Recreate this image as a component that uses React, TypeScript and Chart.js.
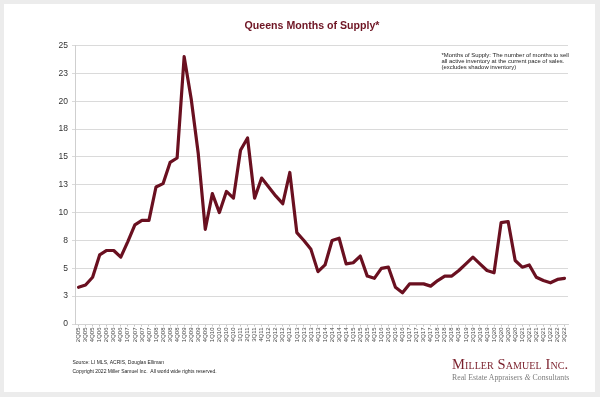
import React, { useEffect, useRef } from 'react';
import Chart from 'chart.js/auto';

const quarterLabels = [
  '2Q05', '3Q05', '4Q05',
  '1Q06', '2Q06', '3Q06', '4Q06',
  '1Q07', '2Q07', '3Q07', '4Q07',
  '1Q08', '2Q08', '3Q08', '4Q08',
  '1Q09', '2Q09', '3Q09', '4Q09',
  '1Q10', '2Q10', '3Q10', '4Q10',
  '1Q11', '2Q11', '3Q11', '4Q11',
  '1Q12', '2Q12', '3Q12', '4Q12',
  '1Q13', '2Q13', '3Q13', '4Q13',
  '1Q14', '2Q14', '3Q14', '4Q14',
  '1Q15', '2Q15', '3Q15', '4Q15',
  '1Q16', '2Q16', '3Q16', '4Q16',
  '1Q17', '2Q17', '3Q17', '4Q17',
  '1Q18', '2Q18', '3Q18', '4Q18',
  '1Q19', '2Q19', '3Q19', '4Q19',
  '1Q20', '2Q20', '3Q20', '4Q20',
  '1Q21', '2Q21', '3Q21', '4Q21',
  '1Q22', '2Q22', '3Q22',
];

const monthsOfSupply = [
  3.3, 3.5, 4.2,
  6.2, 6.6, 6.6, 6.0,
  7.4, 8.9, 9.3, 9.3,
  12.3, 12.6, 14.5, 14.9,
  24.0, 20.2, 15.3, 8.5,
  11.7, 10.0, 11.9, 11.3,
  15.6, 16.7, 11.3, 13.1,
  12.3, 11.5, 10.8, 13.6,
  8.2, 7.5, 6.7, 4.7,
  5.3, 7.5, 7.7, 5.4,
  5.5, 6.1, 4.3, 4.1,
  5.0, 5.1, 3.3, 2.8,
  3.6, 3.6, 3.6, 3.4,
  3.9, 4.3, 4.3, 4.8,
  5.4, 6.0, 5.4, 4.8,
  4.6, 9.1, 9.2, 5.7,
  5.1, 5.3, 4.2, 3.9,
  3.7, 4.0, 4.1,
];

const yTickLabels = ['0', '3', '5', '8', '10', '13', '15', '18', '20', '23', '25'];

const titleText = 'Queens Months of Supply*';
const noteLines = [
  '*Months of Supply: The number of months to sell',
  'all active inventory at the current pace of sales.',
  '(excludes shadow inventory)',
];
const sourceLines = [
  'Source: LI MLS, ACRIS, Douglas Elliman',
  'Copyright 2022 Miller Samuel Inc.  All world wide rights reserved.',
];

const SANS = '"Liberation Sans", Arial, sans-serif';
const SERIF = '"Liberation Serif", "Times New Roman", serif';
const MAROON = '#6a1020';

const textPlugin = {
  id: 'extraTexts',
  afterDraw(chart: any) {
    const ctx = chart.ctx as CanvasRenderingContext2D;
    ctx.save();
    ctx.textBaseline = 'alphabetic';
    ctx.fillStyle = '#6e1423';
    ctx.font = `bold 10.6px ${SANS}`;
    ctx.textAlign = 'center';
    ctx.fillText(titleText, 312, 28.5);

    ctx.textAlign = 'left';
    ctx.fillStyle = '#222';
    ctx.font = `5.9px ${SANS}`;
    const noteBase = [57.2, 63.2, 69.2];
    noteLines.forEach((t, i) => ctx.fillText(t, 441.5, noteBase[i]));

    ctx.font = `5px ${SANS}`;
    const srcBase = [363.5, 373.3];
    sourceLines.forEach((t, i) => ctx.fillText(t, 72.5, srcBase[i]));
    ctx.restore();
  },
};

export default function App() {
  const canvasRef = useRef<HTMLCanvasElement | null>(null);

  useEffect(() => {
    if (!canvasRef.current) return;
    const chart = new Chart(canvasRef.current, {
      type: 'line',
      data: {
        labels: quarterLabels,
        datasets: [
          {
            data: monthsOfSupply,
            borderColor: MAROON,
            backgroundColor: MAROON,
            borderWidth: 3.2,
            pointRadius: 0,
            tension: 0,
            fill: false,
            borderJoinStyle: 'round',
            borderCapStyle: 'round',
          },
        ],
      },
      options: {
        animation: false,
        responsive: false,
        maintainAspectRatio: false,
        devicePixelRatio: 1,
        layout: { padding: { left: 0, right: 32, top: 45.5, bottom: 0 } },
        plugins: {
          legend: { display: false },
          tooltip: { enabled: false },
          title: { display: false },
        },
        scales: {
          x: {
            type: 'category',
            offset: true,
            grid: {
              display: true,
              drawOnChartArea: false,
              drawTicks: true,
              tickLength: 2.5,
              color: '#c4c4c4',
              offset: false,
            },
            border: { display: true, color: '#d4d4d4' },
            ticks: {
              autoSkip: false,
              maxRotation: 90,
              minRotation: 90,
              padding: 1,
              color: '#444',
              font: { size: 6, family: SANS },
            },
            afterFit: (s: any) => {
              s.height = 73;
            },
          },
          y: {
            min: 0,
            max: 25,
            ticks: {
              stepSize: 2.5,
              callback: (_v: any, i: number) => yTickLabels[i],
              color: '#333',
              padding: 4,
              font: { size: 8.5, family: SANS },
            },
            grid: { color: '#dadada', tickLength: 3, lineWidth: 1 },
            border: { display: true, color: '#cfcfcf' },
            afterFit: (s: any) => {
              s.width = 75;
            },
          },
        },
      },
      plugins: [textPlugin],
    });
    return () => chart.destroy();
  }, []);

  return (
    <div style={{ position: 'absolute', left: 0, top: 0, width: 600, height: 397, background: '#ececec', overflow: 'hidden' }}>
      <div style={{ position: 'absolute', left: 4, top: 4, width: 591, height: 388, background: '#ffffff' }} />
      <canvas ref={canvasRef} width={600} height={397} style={{ position: 'absolute', left: 0, top: 0, width: 600, height: 397 }} />
      <div
        style={{
          position: 'absolute',
          left: 452,
          top: 357,
          fontFamily: SERIF,
          fontVariant: 'small-caps',
          fontSize: 14.5,
          lineHeight: '14.5px',
          color: '#7a1f2b',
          whiteSpace: 'nowrap',
          letterSpacing: '0.1px',
        }}
      >
        Miller Samuel Inc.
      </div>
      <div
        style={{
          position: 'absolute',
          left: 452,
          top: 374,
          fontFamily: SERIF,
          fontSize: 7.8,
          lineHeight: '8px',
          color: '#7c7c7c',
          whiteSpace: 'nowrap',
        }}
      >
        Real Estate Appraisers <span style={{ fontStyle: 'italic' }}>&amp;</span> Consultants
      </div>
    </div>
  );
}
